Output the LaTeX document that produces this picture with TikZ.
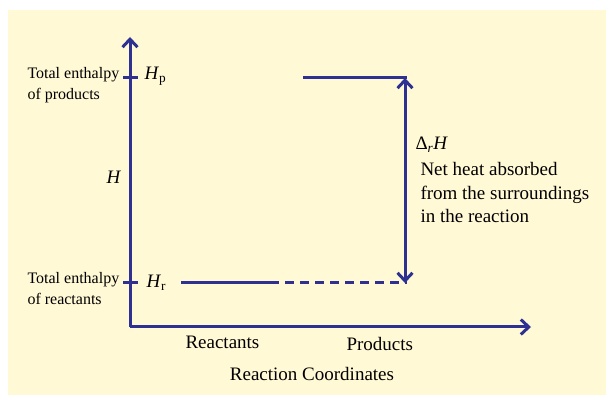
\documentclass[tikz,border=0pt]{standalone}
\usepackage{fontspec}
\setmainfont{Liberation Serif}
\usetikzlibrary{arrows.meta}
\definecolor{navy}{HTML}{2E3192}
\definecolor{cream}{HTML}{FFF9D6}

\tikzset{
  lbl/.style={inner sep=0pt, text=black},
  big/.style={font=\fontsize{19}{23.5}\selectfont},
  small/.style={font=\fontsize{16}{21}\selectfont},
  level/.style={navy, line width=3pt},
}

\begin{document}
\begin{tikzpicture}[x=1pt, y=-1pt, >={Straight Barb[length=8pt,width=15pt]}, line width=3pt]
\useasboundingbox (0,0) rectangle (606,395);
\fill[cream] (8,10) rectangle (606,395);
% axes
\coordinate (O) at (130,327);
\coordinate (ytop) at (130,37);
\coordinate (xend) at (531,327);
\draw[->, navy] (O) -- (ytop);
\draw[->, navy] (O) -- (xend);
% ticks on the H axis
\coordinate (hpL) at (123,78);
\coordinate (hpR) at (138,78);
\coordinate (hrL) at (123,283);
\coordinate (hrR) at (138,283);
\draw[navy] (hpL) -- (hpR);
\draw[navy] (hrL) -- (hrR);
% labels on the H axis
\node[lbl, small, align=left, anchor=west] (totp) at (26,85) {Total enthalpy\\of products};
\node[lbl, small, align=left, anchor=west] (totr) at (26,289) {Total enthalpy\\of reactants};
\node[lbl, big, anchor=base west] (Hp) at (143,80) {\textit{H}\textsubscript{p}};
\node[lbl, big, anchor=base west] (Hr) at (145,288) {\textit{H}\textsubscript{r}};
\node[lbl, big] (H) at (114,177) {\textit{H}};
% enthalpy levels
\coordinate (prodA) at (303,78);
\coordinate (prodB) at (407,78);
\coordinate (reacA) at (181,283);
\coordinate (reacM) at (270,283);
\coordinate (reacB) at (407,283);
\draw[level] (prodA) -- (prodB);
\draw[level] (reacA) -- (reacM);
\draw[level, dash pattern=on 9pt off 6pt] (reacM) -- (reacB);
% enthalpy change
\coordinate (dTop) at (405,78);
\coordinate (dBot) at (405,283);
\draw[<->, navy] (dTop) -- (dBot);
\node[lbl, big, anchor=base west] (dH) at (414,150) {Δ\textsubscript{\textit{r}}\textit{H}};
\node[lbl, big, align=left, anchor=north west] (net) at (419,161) {Net heat absorbed\\from the surroundings\\in the reaction};
% reaction coordinate labels
\node[lbl, big, anchor=base west] (reac) at (184,349) {Reactants};
\node[lbl, big, anchor=base west] (prod) at (345,351) {Products};
\node[lbl, big, anchor=base] (rc) at (312,381) {Reaction Coordinates};
\end{tikzpicture}
\end{document}
